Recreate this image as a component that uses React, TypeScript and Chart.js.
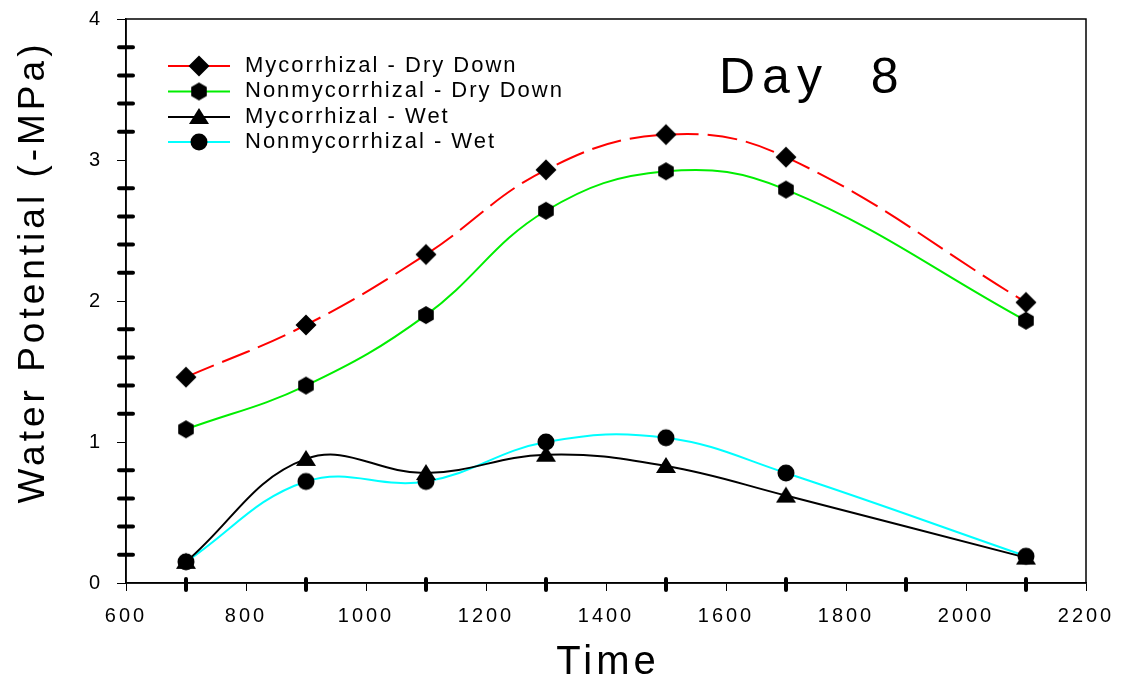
import React, { useEffect, useRef } from 'react';
import { Chart, registerables } from 'chart.js';

Chart.register(...registerables);

const times = [700, 900, 1100, 1300, 1500, 1700, 2100];
const mycDry = [1.46, 1.83, 2.33, 2.93, 3.18, 3.02, 1.99];
const nonmycDry = [1.09, 1.4, 1.9, 2.64, 2.92, 2.79, 1.86];
const mycWet = [0.15, 0.88, 0.78, 0.91, 0.83, 0.62, 0.18];
const nonmycWet = [0.15, 0.72, 0.72, 1.0, 1.03, 0.78, 0.19];

const seriesNames = [
  'Mycorrhizal - Dry Down',
  'Nonmycorrhizal - Dry Down',
  'Mycorrhizal - Wet',
  'Nonmycorrhizal - Wet',
];
const seriesColors = ['#ff0000', '#00ee00', '#000000', '#00ffff'];
const seriesMarkers = ['diamond', 'hexagon', 'triangle', 'circle'];

const xMinorTicks = [700, 900, 1100, 1300, 1500, 1700, 1900, 2100];
const yMinorTicks = [
  0.2, 0.4, 0.6, 0.8, 1.2, 1.4, 1.6, 1.8, 2.2, 2.4, 2.6, 2.8, 3.2, 3.4, 3.6, 3.8,
];

const xTitle = 'Time';
const yTitle = 'Water Potential (-MPa)';
const annotation = 'Day 8';
const FONT = '"Liberation Sans", Arial, sans-serif';

function makeMarker(kind: string): HTMLCanvasElement {
  const s = 24;
  const c = document.createElement('canvas');
  c.width = s;
  c.height = s;
  const g = c.getContext('2d')!;
  g.fillStyle = '#000';
  const m = s / 2;
  g.beginPath();
  if (kind === 'diamond') {
    const r = 10.5;
    g.moveTo(m, m - r);
    g.lineTo(m + r, m);
    g.lineTo(m, m + r);
    g.lineTo(m - r, m);
  } else if (kind === 'hexagon') {
    const r = 9;
    for (let i = 0; i < 6; i++) {
      const a = -Math.PI / 2 + (i * Math.PI) / 3;
      const px = m + r * Math.cos(a);
      const py = m + r * Math.sin(a);
      if (i === 0) g.moveTo(px, py);
      else g.lineTo(px, py);
    }
  } else if (kind === 'triangle') {
    g.moveTo(m, m - 9);
    g.lineTo(m + 10, m + 7);
    g.lineTo(m - 10, m + 7);
  } else {
    g.arc(m, m, 8.5, 0, Math.PI * 2);
  }
  g.closePath();
  g.fill();
  return c;
}

export default function App() {
  const ref = useRef<HTMLCanvasElement | null>(null);

  useEffect(() => {
    document.body.style.margin = '0';
    const canvas = ref.current!;
    const markers = seriesMarkers.map(makeMarker);
    const seriesValues = [mycDry, nonmycDry, mycWet, nonmycWet];

    const decor = {
      id: 'decor',
      beforeDraw(chart: any) {
        chart.ctx.letterSpacing = '3px';
      },
      afterDraw(chart: any) {
        const ctx = chart.ctx as CanvasRenderingContext2D;
        const a = chart.chartArea;
        const xs = chart.scales.x;
        const ys = chart.scales.y;
        ctx.save();
        ctx.letterSpacing = '0px';
        // frame
        ctx.strokeStyle = '#000';
        ctx.lineWidth = 1.5;
        ctx.strokeRect(a.left, a.top, a.right - a.left, a.bottom - a.top);
        // minor ticks
        ctx.lineWidth = 4;
        ctx.lineCap = 'round';
        ctx.beginPath();
        for (const v of yMinorTicks) {
          const py = ys.getPixelForValue(v);
          ctx.moveTo(a.left - 7, py);
          ctx.lineTo(a.left + 7, py);
        }
        for (const v of xMinorTicks) {
          const px = xs.getPixelForValue(v);
          ctx.moveTo(px, a.bottom - 4);
          ctx.lineTo(px, a.bottom + 7);
        }
        ctx.stroke();
        ctx.lineCap = 'butt';

        // legend
        const rowY = [66, 91.5, 117, 142];
        ctx.font = `22px ${FONT}`;
        ctx.letterSpacing = '2px';
        ctx.textAlign = 'left';
        ctx.textBaseline = 'alphabetic';
        seriesNames.forEach((name, i) => {
          const y = rowY[i];
          ctx.strokeStyle = seriesColors[i];
          ctx.lineWidth = 2;
          ctx.beginPath();
          ctx.moveTo(168, y);
          ctx.lineTo(230, y);
          ctx.stroke();
          const mk = markers[i];
          ctx.drawImage(mk, 199 - mk.width / 2, y - mk.height / 2);
          ctx.fillStyle = '#000';
          ctx.fillText(name, 245, y + 5.5);
        });

        // annotation
        ctx.font = `50px ${FONT}`;
        ctx.letterSpacing = '7px';
        ctx.fillText(annotation.replace(' ', '  '), 719, 93);

        // axis titles
        ctx.font = `40px ${FONT}`;
        ctx.letterSpacing = '4px';
        ctx.textAlign = 'center';
        ctx.fillText(xTitle, (a.left + a.right) / 2 + 2, 674);

        ctx.save();
        ctx.translate(44, 272);
        ctx.rotate(-Math.PI / 2);
        ctx.font = `37px ${FONT}`;
        ctx.letterSpacing = '4px';
        ctx.textAlign = 'center';
        ctx.fillText(yTitle, 0, 0);
        ctx.restore();

        ctx.restore();
        ctx.letterSpacing = '0px';
      },
    };

    const chart = new Chart(canvas, {
      type: 'line',
      data: {
        datasets: seriesNames.map((name, i) => ({
          label: name,
          data: times.map((t, j) => ({ x: t, y: seriesValues[i][j] })),
          borderColor: seriesColors[i],
          backgroundColor: '#000',
          borderWidth: 2,
          borderDash: i === 0 ? [30, 9] : [],
          tension: 0.4,
          pointStyle: markers[i],
          pointRadius: 9,
          fill: false,
        })),
      },
      options: {
        animation: false,
        responsive: false,
        devicePixelRatio: 1,
        layout: { padding: { top: 19, right: 40, left: 0, bottom: 0 } },
        plugins: {
          legend: { display: false },
          tooltip: { enabled: false },
        },
        scales: {
          x: {
            type: 'linear',
            min: 600,
            max: 2200,
            ticks: {
              stepSize: 200,
              color: '#000',
              font: { family: FONT, size: 20 },
              padding: 13,
              maxRotation: 0,
              callback: (v: any) => String(v),
            },
            grid: {
              drawOnChartArea: false,
              drawTicks: true,
              tickLength: 8,
              tickColor: '#000',
              tickWidth: 1,
            },
            border: { display: true, color: '#000', width: 1.5 },
            afterFit: (s: any) => {
              s.height = 98;
              s.paddingLeft = 0;
              s.paddingRight = 0;
            },
          },
          y: {
            type: 'linear',
            min: 0,
            max: 4,
            ticks: {
              stepSize: 1,
              color: '#000',
              font: { family: FONT, size: 20 },
              padding: 14,
              callback: (v: any) => String(v),
            },
            grid: {
              drawOnChartArea: false,
              drawTicks: true,
              tickLength: 9,
              tickColor: '#000',
              tickWidth: 1,
            },
            border: { display: true, color: '#000', width: 1.5 },
            afterFit: (s: any) => {
              s.width = 126;
              s.paddingTop = 0;
              s.paddingBottom = 0;
            },
          },
        },
      },
      plugins: [decor],
    } as any);

    return () => chart.destroy();
  }, []);

  return (
    <div style={{ width: 1126, height: 681 }}>
      <canvas ref={ref} width={1126} height={681} style={{ display: 'block' }} />
    </div>
  );
}
